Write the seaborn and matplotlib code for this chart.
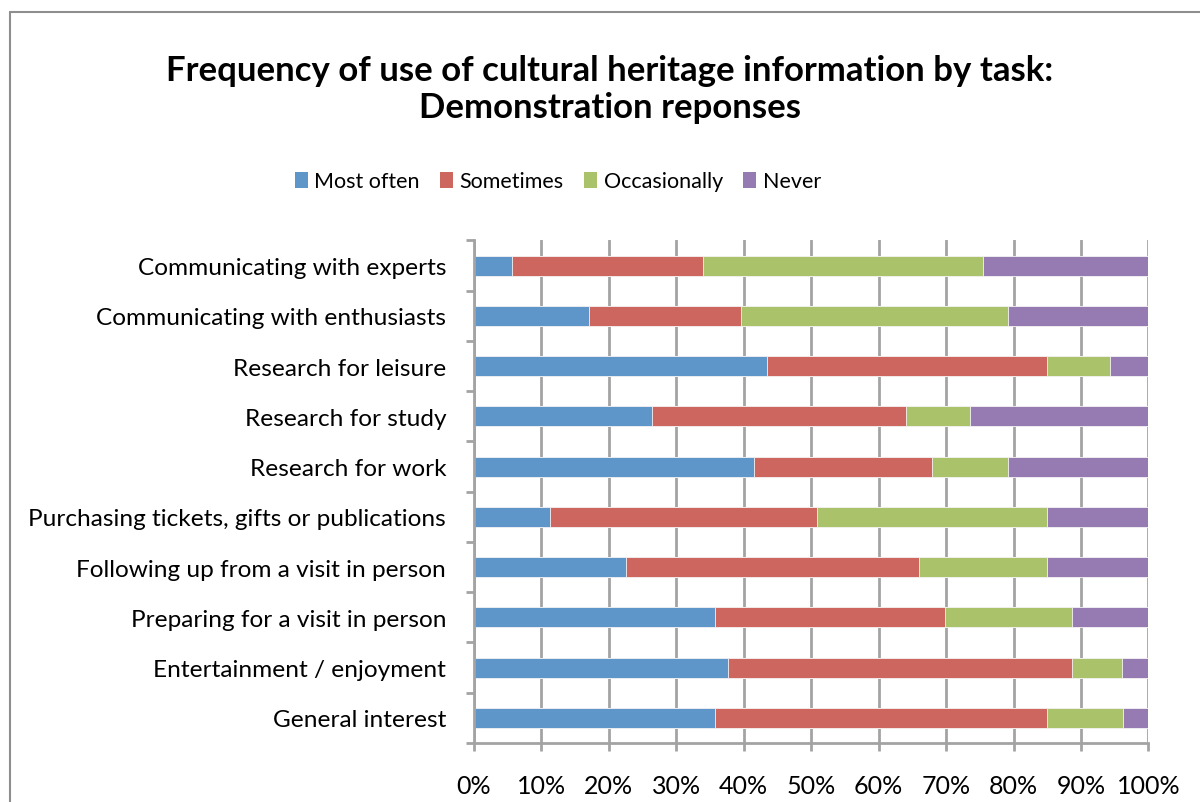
import matplotlib
matplotlib.use("Agg")
import matplotlib.pyplot as plt
from matplotlib.lines import Line2D
from matplotlib.patches import Patch
from matplotlib.ticker import MultipleLocator, FixedLocator, PercentFormatter
import numpy as np
import pandas as pd
import seaborn as sns

# Share of demonstration responses (%) per task and frequency
tasks = [
    "Communicating with experts",
    "Communicating with enthusiasts",
    "Research for leisure",
    "Research for study",
    "Research for work",
    "Purchasing tickets, gifts or publications",
    "Following up from a visit in person",
    "Preparing for a visit in person",
    "Entertainment / enjoyment",
    "General interest",
]
most_often   = [5.7, 17.0, 43.4, 26.4, 41.5, 11.3, 22.6, 35.8, 37.7, 35.8]
sometimes    = [28.3, 22.6, 41.5, 37.7, 26.4, 39.6, 43.4, 34.0, 50.9, 49.1]
occasionally = [41.5, 39.6, 9.4, 9.4, 11.3, 34.0, 18.9, 18.9, 7.5, 11.3]
never        = [24.5, 20.8, 5.7, 26.5, 20.8, 15.1, 15.1, 11.3, 3.9, 3.8]

series_names = ["Most often", "Sometimes", "Occasionally", "Never"]
series_colors = ["#5F96CA", "#CD665E", "#AAC36B", "#957BB1"]

sns.set_theme(style="white")
plt.rcParams["font.family"] = ["Lato", "DejaVu Sans"]
plt.rcParams["text.color"] = "black"

df = pd.DataFrame({
    "task": tasks,
    "Most often": most_often,
    "Sometimes": sometimes,
    "Occasionally": occasionally,
    "Never": never,
})
cum = df[series_names].cumsum(axis=1).assign(task=df["task"])

fig = plt.figure(figsize=(12.0, 8.03), dpi=100)
ax = fig.add_axes([0.395, 0.0735, 0.562, 0.6258])

grid_col = "#A3A3A3"
ax.set_axisbelow(True)

# stacked bars: draw cumulative totals from the outermost segment inwards
for name, col in reversed(list(zip(series_names, series_colors))):
    sns.barplot(data=cum, x=name, y="task", order=tasks, color=col,
                width=0.4, ax=ax, edgecolor="#F4F4F4", linewidth=0.6,
                saturation=1)

ax.set_xlim(0, 100)
ax.set_ylim(len(tasks) - 0.5, -0.5)
ax.set_xlabel("")
ax.set_ylabel("")

ax.xaxis.set_major_locator(MultipleLocator(10))
ax.xaxis.set_major_formatter(PercentFormatter(decimals=0))
ax.grid(axis="x", color=grid_col, linewidth=2.0)
ax.grid(axis="y", visible=False)

ax.tick_params(axis="x", which="major", direction="out", length=6, width=2.0,
               color=grid_col, pad=16, labelsize=18, labelcolor="black",
               bottom=True)
ax.tick_params(axis="y", which="major", length=0, pad=20, labelsize=17.6,
               labelcolor="black")
ax.yaxis.set_minor_locator(FixedLocator(np.arange(-0.5, len(tasks), 1.0)))
ax.tick_params(axis="y", which="minor", direction="out", length=6, width=2.0,
               color=grid_col, left=True)

for side in ["top", "right"]:
    ax.spines[side].set_visible(False)
for side in ["left", "bottom"]:
    ax.spines[side].set_color(grid_col)
    ax.spines[side].set_linewidth(2.0)

handles = [Patch(facecolor=c, edgecolor="none") for c in series_colors]
fig.legend(handles, series_names, loc="center", bbox_to_anchor=(0.465, 0.773),
           ncol=4, frameon=False, fontsize=15.5, handlelength=0.6,
           handleheight=0.8, handletextpad=0.3, columnspacing=0.95,
           labelcolor="black")

fig.text(0.508, 0.889,
         "Frequency of use of cultural heritage information by task:\nDemonstration reponses",
         ha="center", va="center", fontsize=25, fontweight="bold",
         color="black", linespacing=1.2)

# chart-area border
border = "#8E8E8E"
fig.add_artist(Line2D([9.5 / 1200, 9.5 / 1200], [0, 1 - 13 / 803],
                      transform=fig.transFigure, color=border, linewidth=1.5))
fig.add_artist(Line2D([9.5 / 1200, 1], [1 - 13 / 803, 1 - 13 / 803],
                      transform=fig.transFigure, color=border, linewidth=1.5))

fig.savefig("out.png", dpi=100, facecolor="white")
